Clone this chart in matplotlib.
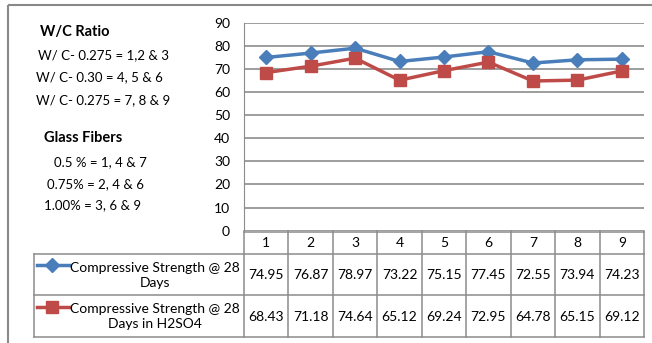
import numpy as np
import matplotlib.pyplot as plt
from matplotlib.patches import Rectangle

plt.rcParams['font.family'] = ['Lato', 'DejaVu Sans']

# data
mixes = ["1", "2", "3", "4", "5", "6", "7", "8", "9"]
cs_28 = [74.95, 76.87, 78.97, 73.22, 75.15, 77.45, 72.55, 73.94, 74.23]
cs_28_h2so4 = [68.43, 71.18, 74.64, 65.12, 69.24, 72.95, 64.78, 65.15, 69.12]
series_names = ["Compressive Strength @ 28\nDays",
                "Compressive Strength @ 28\nDays in H2SO4"]
y_ticks = [0, 10, 20, 30, 40, 50, 60, 70, 80, 90]
notes_wc = ["W/ C- 0.275 = 1,2 & 3", "W/ C- 0.30 = 4, 5 & 6", "W/ C- 0.275 = 7, 8 & 9"]
notes_gf = ["0.5 % = 1, 4 & 7", "0.75% = 2, 4 & 6", "1.00% = 3, 6 & 9"]

blue = "#4A7EBB"
red = "#BE4B48"
grid_c = "#8C8C8C"

W, H = 652, 343
fig = plt.figure(figsize=(W / 100, H / 100), dpi=100)

# layout in pixels
pl, pr, pt, pb = 244, 644, 22.7, 230.7
lab_left = 34
row_y = [231.7, 253.7, 295.0, 336.7]
col_w = (pr - pl) / len(mixes)

# overlay in pixel coordinates for border, table and notes
lay = fig.add_axes([0, 0, 1, 1])
lay.set_xlim(0, W)
lay.set_ylim(H, 0)
lay.axis("off")
lay.add_patch(Rectangle((8, 5), W, H, fill=False, edgecolor="#898989", lw=1.5))

# chart
ax = fig.add_axes([pl / W, 1 - pb / H, (pr - pl) / W, (pb - pt) / H])
x = np.arange(1, len(mixes) + 1)
ax.plot(x, cs_28, color=blue, lw=2.5, marker="D", ms=7, zorder=3)
ax.plot(x, cs_28_h2so4, color=red, lw=2.5, marker="s", ms=8, zorder=3)
ax.set_xlim(0.5, len(mixes) + 0.5)
ax.set_ylim(0, 90)
ax.set_yticks(y_ticks)
ax.set_xticks([])
ax.tick_params(axis="y", length=0, pad=10, labelsize=10)
ax.grid(axis="y", color=grid_c, lw=1.2)
for s in ["top", "right", "bottom"]:
    ax.spines[s].set_visible(False)
ax.spines["left"].set_color(grid_c)
ax.patch.set_alpha(0)

# table
lc = dict(color=grid_c, lw=1.1)
lay.plot([pl, pr], [row_y[0], row_y[0]], **lc)
for yy in row_y[1:]:
    lay.plot([lab_left, pr], [yy, yy], **lc)
lay.plot([lab_left, lab_left], [row_y[1], row_y[3]], **lc)
for i in range(len(mixes) + 1):
    xx = pl + i * col_w
    lay.plot([xx, xx], [pb, row_y[3]], **lc)

for i, m in enumerate(mixes):
    cx = pl + (i + 0.5) * col_w
    lay.text(cx, (row_y[0] + row_y[1]) / 2, m, ha="center", va="center", fontsize=10)
    lay.text(cx, (row_y[1] + row_y[2]) / 2 + 1, f"{cs_28[i]:.2f}", ha="center",
             va="center", fontsize=10)
    lay.text(cx, (row_y[2] + row_y[3]) / 2 + 1, f"{cs_28_h2so4[i]:.2f}", ha="center",
             va="center", fontsize=10)

for r, (name, col, mk, ms) in enumerate(zip(series_names, [blue, red], ["D", "s"], [7, 8])):
    y0, y1 = row_y[r + 1], row_y[r + 2]
    ky = y0 + 11.5
    lay.plot([37, 69], [ky, ky], color=col, lw=2.5)
    lay.plot([52], [ky], color=col, marker=mk, ms=ms)
    lay.text(155, (y0 + y1) / 2 + 1, name, ha="center", va="center",
             multialignment="center", fontsize=10, linespacing=1.3)

# notes on the left
lay.text(40, 32, "W/C Ratio", fontsize=10.5, fontweight="bold", va="center")
for t, xx, yy in zip(notes_wc, [38, 36, 36], [55, 77, 100]):
    lay.text(xx, yy, t, fontsize=9.5, va="center")
lay.text(44, 138, "Glass Fibers", fontsize=10.5, fontweight="bold", va="center")
for t, xx, yy in zip(notes_gf, [54, 47, 44], [162, 184, 205]):
    lay.text(xx, yy, t, fontsize=9.5, va="center")

fig.savefig("out.png", dpi=100)
